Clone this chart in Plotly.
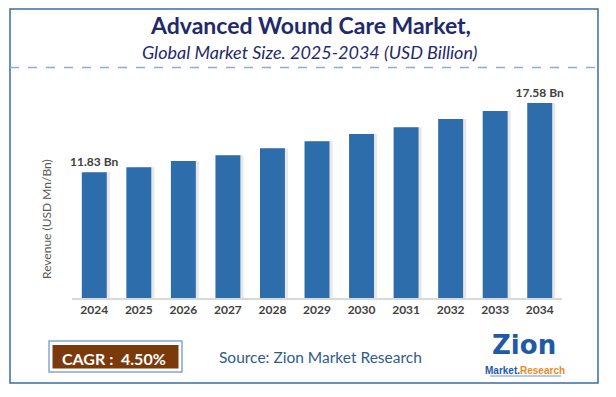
import plotly.graph_objects as go

years = ["2024", "2025", "2026", "2027", "2028", "2029", "2030", "2031", "2032", "2033", "2034"]
revenue = [11.83, 12.25, 12.77, 13.24, 13.82, 14.40, 15.01, 15.57, 16.25, 16.92, 17.58]
label_years = ["2024", "2034"]
label_texts = ["11.83 Bn", "17.58 Bn"]

bar_text = [label_texts[label_years.index(y)] if y in label_years else "" for y in years]

W, H = 616, 397
L, R, T, B = 72, 54, 90, 99
PW, PH = W - L - R, H - T - B

def px(x):
    return (x - L) / PW

def py(y):
    return (H - B - y) / PH

fig = go.Figure()
fig.add_trace(go.Bar(
    x=years, y=revenue, width=0.56, offset=-0.28 + 0.07,
    marker=dict(color="rgba(110,110,110,0.16)", line=dict(width=0)),
    hoverinfo="skip", showlegend=False,
))
fig.add_trace(go.Bar(
    x=years, y=revenue, width=0.56, offset=-0.28,
    marker=dict(color="#2E6DAB", line=dict(width=0)),
    text=bar_text, textposition="outside", cliponaxis=False, constraintext="none",
    textfont=dict(family="Lato", size=12, color="#404040", weight="bold"),
    showlegend=False,
))

font_fam = "Lato"
annotations = [
    dict(x=px(310), y=py(25), text="<b>Advanced Wound Care Market,</b>",
         font=dict(family=font_fam, size=23, color="#1F2A6B")),
    dict(x=px(310), y=py(52), text="<i>Global Market Size. 2025-2034 (USD Billion)</i>",
         font=dict(family=font_fam, size=18, color="#1F2A6B")),
    dict(x=px(46), y=py(219), text="Revenue (USD Mn/Bn)", textangle=-90,
         font=dict(family=font_fam, size=12, color="#595959")),
    dict(x=px(114), y=py(358), text="<b>CAGR :  4.50%</b>",
         font=dict(family=font_fam, size=16, color="white")),
    dict(x=px(320), y=py(357), text="Source: Zion Market Research",
         font=dict(family=font_fam, size=15.5, color="#2E5C8A")),
    dict(x=px(524), y=py(345), text="<b>Zion</b>",
         font=dict(family="DejaVu Sans", size=26, color="#1E5AA8")),
    dict(x=px(525), y=py(370), text="<b><span style='color:#1E5AA8'>Market.</span><span style='color:#F08A1C'>Research</span></b>",
         font=dict(family="Liberation Sans Narrow, Liberation Sans", size=10)),
]
for a in annotations:
    a.update(xref="paper", yref="paper", showarrow=False, xanchor="center", yanchor="middle")
    fig.add_annotation(**a)

shapes = [
    dict(type="rect", x0=px(10), x1=px(598), y0=py(9), y1=py(383),
         line=dict(color="#3A6EA5", width=1.5), fillcolor="rgba(0,0,0,0)"),
    dict(type="line", x0=px(10), x1=px(598), y0=py(67.5), y1=py(67.5),
         line=dict(color="#8FAADC", width=1.5, dash="dash")),
    dict(type="rect", x0=px(49), x1=px(182), y0=py(341), y1=py(372),
         line=dict(color="#7FA8D8", width=1.5), fillcolor="white"),
    dict(type="rect", x0=px(52.5), x1=px(178.5), y0=py(345), y1=py(368.5),
         line=dict(width=0), fillcolor="#7B3A0B"),
    dict(type="line", x0=px(490), x1=px(561), y0=py(376), y1=py(376),
         line=dict(color="#9DB9DF", width=1.5)),
]
for s in shapes:
    s.update(xref="paper", yref="paper", layer="above")
    fig.add_shape(**s)

fig.update_layout(
    width=W, height=H,
    margin=dict(l=L, r=R, t=T, b=B, pad=0),
    paper_bgcolor="white", plot_bgcolor="white",
    barmode="overlay",
    xaxis=dict(type="category", range=[-0.5, len(years) - 0.5], showline=True,
               linecolor="#D9D9D9", linewidth=1.5, ticks="",
               tickfont=dict(family="Lato", size=12, color="#404040", weight="bold"),
               showgrid=False, zeroline=False, fixedrange=True, automargin=False),
    yaxis=dict(range=[1.4, 18.66], visible=False, showgrid=False, zeroline=False,
               automargin=False, fixedrange=True),
    showlegend=False,
)

fig.write_html("out.html", config={"displayModeBar": False},
               post_script="document.body.style.margin='0';")
